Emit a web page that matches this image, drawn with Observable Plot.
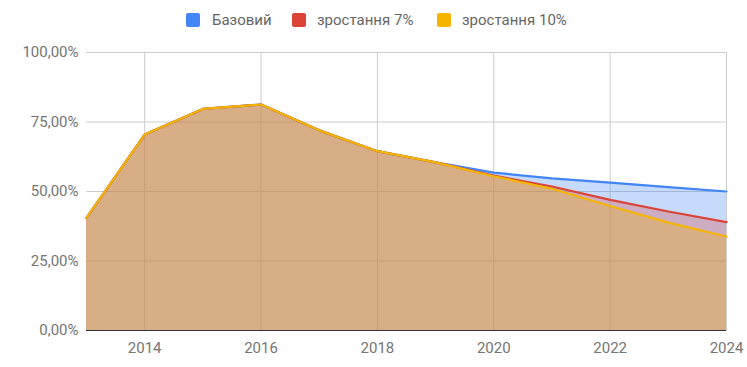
<!DOCTYPE html>
<html>
<head>
<meta charset="utf-8">
<script src="https://cdn.jsdelivr.net/npm/d3@7"></script>
<script src="https://cdn.jsdelivr.net/npm/@observablehq/plot@0.6"></script>
<style>
  html, body { margin: 0; padding: 0; background: #fff; }
  body { width: 747px; height: 367px; overflow: hidden; font-family: Roboto, "Noto Sans", sans-serif; }
  #legend { position: relative; height: 38px; font-size: 15px; color: #666; }
  .sw { position: absolute; top: 13px; width: 14px; height: 14px; border-radius: 2px; }
  .lt { position: absolute; top: 10px; line-height: 20px; white-space: nowrap; }
</style>
</head>
<body>
<div id="legend"></div>
<div id="chart"></div>
<script>
const years = [2013, 2014, 2015, 2016, 2017, 2018, 2019, 2020, 2021, 2022, 2023, 2024];
const seriesNames = ["Базовий", "зростання 7%", "зростання 10%"];
const base     = [40.5, 70.5, 79.7, 81.3, 72.0, 64.5, 60.5, 56.8, 54.7, 53.2, 51.6, 50.0];
const growth7  = [40.5, 70.5, 79.7, 81.3, 72.0, 64.5, 60.5, 55.7, 51.8, 47.0, 42.8, 39.0];
const growth10 = [40.5, 70.5, 79.7, 81.3, 72.0, 64.5, 60.5, 55.5, 51.0, 44.8, 38.8, 33.8];
const xTicks = [2014, 2016, 2018, 2020, 2022, 2024];
const yTicks = [0, 25, 50, 75, 100];
const colors = ["#4285F4", "#DB4437", "#F4B400"];

const seriesValues = [base, growth7, growth10];
const data = seriesValues.map((vals, s) => years.map((year, i) => ({year, value: vals[i], series: seriesNames[s]})));

// legend
const legend = document.getElementById("legend");
const swX = [186, 292, 437];
const txX = [212, 317, 462];
seriesNames.forEach((name, i) => {
  const sw = document.createElement("div");
  sw.className = "sw";
  sw.style.left = swX[i] + "px";
  sw.style.background = colors[i];
  const t = document.createElement("span");
  t.className = "lt";
  t.style.left = txX[i] + "px";
  t.textContent = name;
  legend.appendChild(sw);
  legend.appendChild(t);
});

const fmt = d => d.toFixed(2).replace(".", ",") + "%";

const chart = Plot.plot({
  width: 747,
  height: 329,
  marginTop: 14,
  marginBottom: 37,
  marginLeft: 86,
  marginRight: 21,
  style: {fontFamily: "Roboto, sans-serif", fontSize: "15px", color: "#757575", background: "#fff"},
  x: {domain: [2013, 2024]},
  y: {domain: [0, 100]},
  marks: [
    Plot.gridX(xTicks, {stroke: "#cccccc", strokeOpacity: 1}),
    Plot.gridY(yTicks.filter(d => d > 0), {stroke: "#cccccc", strokeOpacity: 1}),
    Plot.ruleY([0], {stroke: "#333", strokeWidth: 1}),
    ...data.map((d, i) => Plot.areaY(d, {x: "year", y: "value", fill: colors[i], fillOpacity: 0.3})),
    ...data.map((d, i) => Plot.lineY(d, {x: "year", y: "value", stroke: colors[i], strokeWidth: 2.2})),
    Plot.axisX(xTicks, {tickSize: 0, tickPadding: 12, tickFormat: d => String(d), fill: "#757575", label: null}),
    Plot.axisY(yTicks, {tickSize: 0, tickPadding: 8, tickFormat: fmt, fill: "#757575", label: null})
  ]
});
document.getElementById("chart").appendChild(chart);
</script>
</body>
</html>
